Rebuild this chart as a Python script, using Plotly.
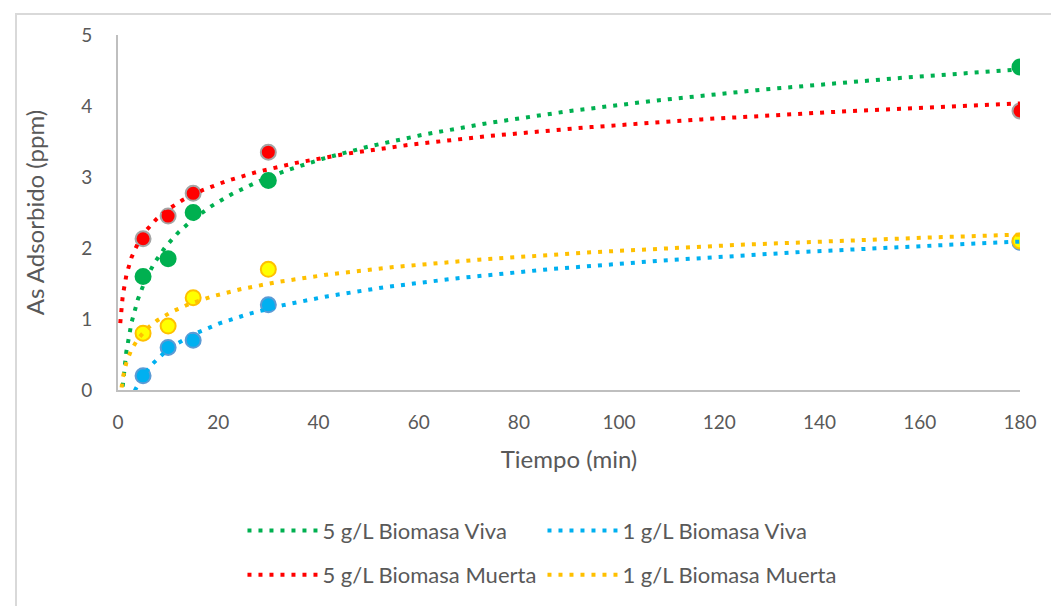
import numpy as np
import plotly.graph_objects as go

tiempo = [5, 10, 15, 30, 180]
viva_5 = [1.6, 1.85, 2.5, 2.95, 4.55]
muerta_5 = [2.13, 2.45, 2.77, 3.35, 3.93]
viva_1 = [0.2, 0.6, 0.7, 1.2, 2.08]
muerta_1 = [0.8, 0.9, 1.3, 1.7, 2.1]

names = ["5 g/L Biomasa Viva", "1 g/L Biomasa Viva", "5 g/L Biomasa Muerta", "1 g/L Biomasa Muerta"]
series = [viva_5, viva_1, muerta_5, muerta_1]
fill = ["#00B050", "#00B0F0", "#FF0000", "#FFFF00"]
edge = ["#00B050", "#5B9BD5", "#A5A5A5", "#FFC000"]
trend = ["#00B050", "#00B0F0", "#FF0000", "#FFC000"]
legends = ["legend", "legend2", "legend3", "legend4"]

FONT = "Lato"
fig = go.Figure()

for ys, f, e in zip(series, fill, edge):
    fig.add_trace(go.Scatter(x=tiempo, y=ys, mode="markers", showlegend=False,
                             marker=dict(size=15, color=f, line=dict(color=e, width=2))))

xt = np.geomspace(0.45, 180, 400)
for ys, c, n, lg in zip(series, trend, names, legends):
    b, a = np.polyfit(np.log(tiempo), ys, 1)
    fig.add_trace(go.Scatter(x=xt, y=a + b * np.log(xt), mode="lines", name=n, legend=lg,
                             line=dict(color=c, width=4, dash="4px,7px"),
                             hoverinfo="skip"))

axis_common = dict(showgrid=False, zeroline=False, showline=True, linecolor="#BFBFBF",
                   linewidth=2, ticks="", tickfont=dict(family=FONT, size=19, color="#595959"))

leg_common = dict(orientation="h", xanchor="left", yanchor="top", itemwidth=70,
                  font=dict(family=FONT, size=22, color="#595959"), bgcolor="rgba(0,0,0,0)")
col1, col2 = 0.138, 0.4706
row1, row2 = -0.337, -0.462

fig.update_layout(
    width=1059, height=606,
    margin=dict(l=110, r=47, t=27, b=224, autoexpand=False),
    paper_bgcolor="white", plot_bgcolor="white",
    font=dict(family=FONT, color="#595959"),
    xaxis=dict(range=[0, 180], dtick=20, tick0=0, ticklabelstandoff=14,
               title=dict(text="Tiempo (min)", font=dict(family=FONT, size=24, color="#595959"), standoff=19),
               **axis_common),
    yaxis=dict(range=[0, 5], dtick=1, tick0=0, ticklabelstandoff=20,
               title=dict(text="As Adsorbido (ppm)", font=dict(family=FONT, size=24, color="#595959"), standoff=30),
               **axis_common),
    legend=dict(x=col1, y=row1, **leg_common),
    legend2=dict(x=col2, y=row1, **leg_common),
    legend3=dict(x=col1, y=row2, **leg_common),
    legend4=dict(x=col2, y=row2, **leg_common),
    shapes=[dict(type="rect", xref="paper", yref="paper",
                 x0=-102 / 902, x1=1.1, y0=-0.7, y1=1 + 21 / 355,
                 line=dict(color="#D9D9D9", width=2), fillcolor="rgba(0,0,0,0)", layer="below")],
)

fig.write_html("out.html")
